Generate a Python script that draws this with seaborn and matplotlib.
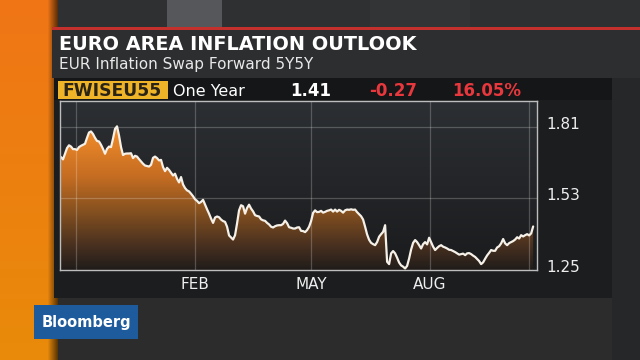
import numpy as np
import pandas as pd
import matplotlib
matplotlib.use("Agg")
import matplotlib.pyplot as plt
import matplotlib.transforms as mtransforms
from matplotlib.colors import LinearSegmentedColormap, to_rgb
from matplotlib.patches import Rectangle
import seaborn as sns

# ---------------- data ----------------
title = "EURO AREA INFLATION OUTLOOK"
subtitle = "EUR Inflation Swap Forward 5Y5Y"
ticker = "FWISEU55"
period_label = "One Year"
last_value = "1.41"
net_change = "-0.27"
pct_change = "16.05%"
brand = "Bloomberg"

start_date = "2015-10-20"
end_date = "2016-10-20"
view_start = "2015-10-18 20:00"
view_end = "2016-10-22 18:00"

swap_rate = [
    1.691, 1.682, 1.704, 1.726, 1.737, 1.732, 1.722, 1.722, 1.719, 1.730,
    1.735, 1.739, 1.743, 1.766, 1.787, 1.791, 1.781, 1.766, 1.754, 1.752,
    1.739, 1.723, 1.704, 1.723, 1.732, 1.730, 1.763, 1.801, 1.811, 1.775,
    1.730, 1.699, 1.704, 1.705, 1.705, 1.706, 1.687, 1.696, 1.693, 1.683,
    1.674, 1.665, 1.658, 1.656, 1.654, 1.661, 1.688, 1.693, 1.687, 1.678,
    1.680, 1.652, 1.636, 1.649, 1.641, 1.630, 1.619, 1.626, 1.606, 1.592,
    1.613, 1.584, 1.570, 1.561, 1.557, 1.548, 1.538, 1.526, 1.520, 1.511,
    1.516, 1.524, 1.505, 1.487, 1.470, 1.451, 1.434, 1.455, 1.459, 1.456,
    1.447, 1.441, 1.438, 1.419, 1.385, 1.377, 1.369, 1.386, 1.432, 1.483,
    1.503, 1.499, 1.470, 1.492, 1.505, 1.490, 1.479, 1.464, 1.461, 1.459,
    1.448, 1.444, 1.442, 1.434, 1.428, 1.419, 1.416, 1.421, 1.424, 1.425,
    1.425, 1.430, 1.443, 1.433, 1.417, 1.415, 1.412, 1.412, 1.416, 1.417,
    1.403, 1.402, 1.398, 1.406, 1.419, 1.441, 1.473, 1.483, 1.476, 1.477,
    1.481, 1.474, 1.477, 1.481, 1.483, 1.486, 1.478, 1.486, 1.478, 1.485,
    1.481, 1.474, 1.483, 1.486, 1.485, 1.487, 1.485, 1.486, 1.476, 1.468,
    1.460, 1.447, 1.419, 1.389, 1.368, 1.356, 1.351, 1.347, 1.359, 1.380,
    1.390, 1.399, 1.425, 1.282, 1.273, 1.315, 1.324, 1.315, 1.298, 1.279,
    1.268, 1.263, 1.256, 1.266, 1.295, 1.330, 1.356, 1.367, 1.359, 1.347,
    1.334, 1.351, 1.359, 1.350, 1.376, 1.359, 1.341, 1.328, 1.336, 1.343,
    1.347, 1.341, 1.338, 1.334, 1.329, 1.328, 1.324, 1.320, 1.315, 1.310,
    1.312, 1.314, 1.308, 1.315, 1.316, 1.312, 1.306, 1.301, 1.293, 1.285,
    1.273, 1.280, 1.294, 1.307, 1.317, 1.328, 1.325, 1.325, 1.338, 1.343,
    1.354, 1.371, 1.354, 1.347, 1.355, 1.359, 1.363, 1.369, 1.378, 1.373,
    1.386, 1.381, 1.386, 1.390, 1.385, 1.393, 1.420,
]

month_ticks = ["2016-02-01", "2016-05-01", "2016-08-01"]
month_labels = ["FEB", "MAY", "AUG"]
grid_dates = ["2015-11-01", "2016-02-01", "2016-05-01", "2016-08-01", "2016-10-17"]
y_ticks = [1.25, 1.53, 1.81]
y_limits = (1.25, 1.91)

# ---------------- style ----------------
sns.set_theme(style="dark")
plt.rcParams["font.family"] = ["DejaVu Sans"]

W, H = 640, 360
fig = plt.figure(figsize=(6.4, 3.6), dpi=100)
fig.patch.set_facecolor("#2b2c2e")

# background canvas in pixel coordinates
bg = fig.add_axes([0, 0, 1, 1], zorder=-10)
bg.set_axis_off()


def rect(x0, y0, x1, y1, color, z=1):
    bg.add_patch(Rectangle((x0, y0), x1 - x0, y1 - y0, facecolor=color, lw=0, zorder=z))


def lerp(c1, c2, t):
    a, b = np.array(to_rgb(c1)), np.array(to_rgb(c2))
    return a + (b - a) * t


rect(0, 0, W, H, "#2b2c2e", 0)
# top band
rect(58, 0, W, 28, "#2f3032")
rect(167, 0, 222, 28, "#56575a")
rect(370, 0, 470, 28, "#333436")
# orange strip with shadow
ys = np.linspace(0, 1, 180)[:, None, None]
xs = np.linspace(0, 1, 58)[None, :, None]
base = lerp("#f07516", "#e98b0a", ys)
shade = np.clip(1 - np.clip((xs * 58 - 48) / 10, 0, 1) * 0.6, 0, 1)
strip = np.clip(base * shade, 0, 1)
bg.imshow(strip, extent=[0, 58, H, 0], aspect="auto", interpolation="bilinear", zorder=1)
# header panel and red rule
rect(52, 28, W, 78, "#2d2e30", 2)
rect(52, 27, W, 29.5, "#c4302b", 3)
# chart panel
rect(54, 78, 612, 298, "#1c1d1f", 2)
rect(54, 78, 612, 100, "#151617", 2)
rect(612, 78, W, H, "#262729", 2)
rect(58, 298, 612, H, "#2c2c2d", 2)
# brand box
rect(34, 305, 138, 339, "#1d5b9c", 4)

bg.set_xlim(0, W)
bg.set_ylim(H, 0)

# texts
bg.text(59, 49.5, title, color="white", fontsize=13.9, fontweight="bold", va="baseline", zorder=5)
bg.text(59, 68.5, subtitle, color="#e8e8e8", fontsize=11.0, va="baseline", zorder=5)
rect(58, 81, 168, 99, "#f0b429", 4)
bg.text(62, 95.5, ticker, color="#2a2416", fontsize=12.3, fontweight="bold", va="baseline", zorder=5)
bg.text(173, 95.5, period_label, color="white", fontsize=11.5, va="baseline", zorder=5)
bg.text(290, 95.5, last_value, color="white", fontsize=12, fontweight="bold", va="baseline", zorder=5)
bg.text(369, 95.5, net_change, color="#e8383d", fontsize=12, fontweight="bold", va="baseline", zorder=5)
bg.text(452, 95.5, pct_change, color="#e8383d", fontsize=12, fontweight="bold", va="baseline", zorder=5)
bg.text(86, 322, brand, color="white", fontsize=10.5, fontweight="bold", ha="center", va="center", zorder=5)

# ---------------- chart ----------------
ax_l, ax_t, ax_r, ax_b = 59.5, 101, 536.7, 270
ax = fig.add_axes([ax_l / W, 1 - ax_b / H, (ax_r - ax_l) / W, (ax_b - ax_t) / H])

dates = pd.date_range(start_date, end_date, periods=len(swap_rate))
df = pd.DataFrame({"date": dates, "rate": swap_rate})

x0n = matplotlib.dates.date2num(pd.Timestamp(view_start))
x1n = matplotlib.dates.date2num(pd.Timestamp(view_end))

# axes background gradient
bg_cmap = LinearSegmentedColormap.from_list("bgc", ["#1a1b1d", "#2c2f33"])
ax.imshow(np.linspace(0, 1, 256)[:, None], extent=[x0n, x1n, y_limits[0], y_limits[1]],
          origin="lower", aspect="auto", cmap=bg_cmap, zorder=0, interpolation="bilinear")

# gradient area fill clipped under the line
fill_cmap = LinearSegmentedColormap.from_list(
    "fillc",
    [(0.0, "#201c1a"), (0.15, "#4a3120"), (0.35, "#86511f"),
     (0.55, "#c46c22"), (0.8, "#ec8829"), (1.0, "#f49836")])
poly = ax.fill_between(df["date"], df["rate"], y_limits[0], facecolor="none", lw=0)
im = ax.imshow(np.linspace(0, 1, 256)[:, None], extent=[x0n, x1n, y_limits[0], y_limits[1]],
               origin="lower", aspect="auto", cmap=fill_cmap, zorder=1.5, interpolation="bilinear")
im.set_clip_path(poly.get_paths()[0], transform=ax.transData)

# grid
for d in grid_dates:
    ax.axvline(pd.Timestamp(d), color="white", alpha=0.22, lw=0.9, zorder=2)
for v in y_ticks[1:]:
    ax.axhline(v, color="white", alpha=0.22, lw=0.9, zorder=2)

sns.lineplot(data=df, x="date", y="rate", ax=ax, color="#f6f1e8", linewidth=1.6, zorder=3)

ax.set_xlim(pd.Timestamp(view_start), pd.Timestamp(view_end))
ax.set_ylim(*y_limits)
ax.set_xlabel("")
ax.set_ylabel("")
ax.grid(False)
for s in ax.spines.values():
    s.set_visible(True)
    s.set_color("#bdbdbd")
    s.set_linewidth(1.0)
    s.set_zorder(4)

ax.set_xticks([pd.Timestamp(d) for d in month_ticks])
ax.set_xticklabels(month_labels)
ax.yaxis.tick_right()
ax.set_yticks(y_ticks)
ax.set_yticklabels([f"{v:.2f}" for v in y_ticks])
ax.tick_params(axis="both", length=0, labelcolor="#eeeeee", labelsize=11)
ax.tick_params(axis="x", pad=5)
ax.tick_params(axis="y", pad=7)
offset = mtransforms.ScaledTranslation(0, 0.04, fig.dpi_scale_trans)
for lab in ax.get_yticklabels():
    lab.set_transform(lab.get_transform() + offset)

fig.savefig("out.png", dpi=100)
